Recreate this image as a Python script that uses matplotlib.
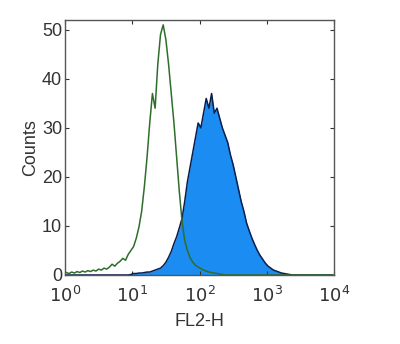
import numpy as np
import matplotlib
matplotlib.use('Agg')
import matplotlib.pyplot as plt

plt.rcParams['font.family'] = ['Liberation Sans', 'DejaVu Sans']

# channel centres in log10(FL2-H), 0.04 decade wide
log_start = 0.02
log_step = 0.04

# isotype control (green outline)
control_counts = [
    0.5, 0.3, 0.6, 0.4, 0.7, 0.5, 0.8, 0.6, 0.9, 0.7,
    1.0, 0.8, 1.2, 1.0, 1.4, 1.2, 1.6, 2.2, 1.8, 2.4,
    2.8, 3.4, 3.0, 4.2, 5.0, 5.8, 7.5, 9.8, 13, 18,
    24, 31, 37, 34, 43, 49, 51, 48, 43, 37,
    31, 24, 17, 11, 7, 5, 3.5, 2.6, 2.0, 1.6,
    1.3, 1.0, 0.8, 0.6, 0.5, 0.4, 0.3, 0.2, 0.1, 0,
    0, 0, 0, 0, 0, 0, 0, 0, 0, 0,
    0, 0, 0, 0, 0, 0, 0, 0, 0, 0,
    0, 0, 0, 0, 0, 0, 0, 0, 0, 0,
    0, 0, 0, 0, 0, 0, 0, 0, 0, 0,
]

# stained sample (blue filled)
stained_counts = [
    0, 0, 0, 0, 0, 0, 0, 0, 0, 0,
    0, 0, 0, 0, 0, 0, 0, 0, 0, 0,
    0, 0, 0, 0, 0.1, 0.3, 0.3, 0.4, 0.4, 0.5,
    0.6, 0.6, 0.8, 1.0, 1.2, 1.4, 1.9, 2.6, 3.6, 4.8,
    6.4, 7.8, 9.6, 11.5, 15, 19, 22, 25, 28, 31,
    30, 33, 36, 34, 37, 33, 34, 32, 30, 28.5,
    27, 24.5, 22.5, 20, 17.5, 15, 13, 10.6, 9, 7.5,
    6.2, 5, 4, 3.2, 2.4, 1.8, 1.4, 1.0, 0.8, 0.6,
    0.4, 0.3, 0.2, 0.1, 0, 0, 0, 0, 0, 0,
    0, 0, 0, 0, 0, 0, 0, 0, 0, 0,
]

xticks = [1, 10, 100, 1000, 10000]
xticklabels = ['$10^0$', '$10^1$', '$10^2$', '$10^3$', '$10^4$']
yticks = [0, 10, 20, 30, 40, 50]

chan = 10 ** (log_start + log_step * np.arange(len(control_counts)))

fig = plt.figure(figsize=(4.0, 3.44), dpi=100)
ax = fig.add_axes([0.1625, 0.2006, 0.6725, 0.7414])

ax.fill_between(chan, stained_counts, color='#1a8cf2', linewidth=0)
ax.plot(chan, stained_counts, color='#0b1d4d', lw=1.1)
ax.plot(chan, control_counts, color='#2e6e2a', lw=1.1)

ax.set_xscale('log')
ax.set_xlim(1, 10000)
ax.set_ylim(0, 52)
ax.set_xticks(xticks)
ax.set_xticklabels(xticklabels)
ax.xaxis.set_minor_locator(matplotlib.ticker.NullLocator())
ax.set_yticks(yticks)

ax.tick_params(direction='in', length=3, width=0.8, top=True, right=True,
               labelsize=13, colors='#333333')
ax.tick_params(axis='x', pad=8)
ax.tick_params(axis='y', pad=2)
for s in ax.spines.values():
    s.set_color('#555555')
    s.set_linewidth(1.0)

ax.set_xlabel('FL2-H', fontsize=13, color='#333333', labelpad=5)
ax.set_ylabel('Counts', fontsize=13, color='#333333', labelpad=2)

plt.savefig('out.png', dpi=100)
